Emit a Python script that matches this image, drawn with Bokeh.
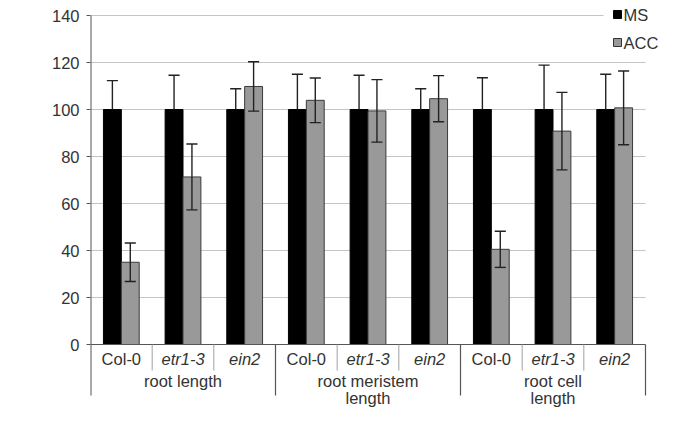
import numpy as np
from bokeh.plotting import figure
from bokeh.models import FixedTicker, Label, Range1d
from bokeh.core.properties import value
from bokeh.embed import file_html
from bokeh.resources import INLINE

# ---- data ----
groups = ["root length", "root meristem\nlength", "root cell\nlength"]
genotypes = ["Col-0", "etr1-3", "ein2"]
ms_mean = [100, 100, 100, 100, 100, 100, 100, 100, 100]
ms_err = [12.3, 14.6, 8.8, 15.0, 14.6, 8.8, 13.5, 18.9, 15.0]
acc_mean = [35.0, 71.3, 109.8, 103.9, 99.4, 104.6, 40.5, 90.8, 100.7]
acc_err = [8.2, 14.0, 10.5, 9.5, 13.3, 9.8, 7.7, 16.5, 15.7]
y_ticks = [0, 20, 40, 60, 80, 100, 120, 140]
series = ["MS", "ACC"]
series_fill = ["black", "#999999"]
series_line = ["black", "#3a3a3a"]

FONT = "Liberation Sans"
TXT = "#333333"
n = len(groups) * len(genotypes)
idx = np.arange(n)

# ---- layout (canvas pixels) ----
W, H = 659, 408
LEFT = 90
PX_PER_X = 555 / 9.0
Y0_PX = 344           # canvas y of value 0
PX_PER_Y = 329 / 140.0


def dy(cy):
    return (Y0_PX - cy) / PX_PER_Y


def dx(cx):
    return (cx - LEFT) / PX_PER_X


p = figure(width=W, height=H, output_backend="svg", toolbar_location=None,
           x_range=Range1d(0, dx(W)), y_range=Range1d(dy(H), dy(0)),
           min_border_left=LEFT, min_border_right=0,
           min_border_top=0, min_border_bottom=0)
p.outline_line_color = None
p.xaxis.visible = False
p.xgrid.visible = False
p.ygrid.visible = False

ax = p.yaxis[0]
ax.ticker = FixedTicker(ticks=y_ticks)
ax.axis_line_color = None
ax.major_tick_line_color = "#555555"
ax.major_tick_out = 4
ax.major_tick_in = 0
ax.minor_tick_line_color = None
ax.major_label_standoff = 7
ax.major_label_text_font = FONT
ax.major_label_text_font_size = "16.5px"
ax.major_label_text_color = TXT

# gridlines (top one stops before the legend)
gx1 = [9.0] * len(y_ticks)
gx1[-1] = dx(603)
p.segment(x0=[0] * len(y_ticks), y0=y_ticks, x1=gx1, y1=y_ticks,
          line_color="#c4c4c4", line_width=1)

# bars
ms_x = idx + 0.355
acc_x = idx + 0.645
bw = 0.29
p.vbar(x=ms_x, top=ms_mean, bottom=0, width=bw,
       fill_color=series_fill[0], line_color=series_line[0], line_width=1)
p.vbar(x=acc_x, top=acc_mean, bottom=0, width=bw,
       fill_color=series_fill[1], line_color=series_line[1], line_width=1)

# error bars (lower half of the MS bars is hidden inside the black bar)
cap = 0.09
ERR = "#222222"
for xs, m, e, lower in ((ms_x, ms_mean, ms_err, False), (acc_x, acc_mean, acc_err, True)):
    m = np.array(m, float)
    e = np.array(e, float)
    lo = m - e if lower else m
    p.segment(x0=xs, y0=lo, x1=xs, y1=m + e, line_color=ERR, line_width=1.4)
    p.segment(x0=xs - cap, y0=m + e, x1=xs + cap, y1=m + e, line_color=ERR, line_width=1.4)
    if lower:
        p.segment(x0=xs - cap, y0=lo, x1=xs + cap, y1=lo, line_color=ERR, line_width=1.4)

# axis lines
major_end = dy(395)
minor_end = dy(370)
p.segment(x0=[0], y0=[major_end], x1=[0], y1=[140], line_color="#555555", line_width=2)
p.segment(x0=[0], y0=[0], x1=[9], y1=[0], line_color="#555555", line_width=1)

# category separators
minor = [i for i in range(1, n) if i % 3 != 0]
p.segment(x0=minor, y0=[0] * len(minor), x1=minor, y1=[minor_end] * len(minor),
          line_color="#a0a0a0", line_width=1)
major = [3, 6, 9]
p.segment(x0=major, y0=[0] * len(major), x1=major, y1=[major_end] * len(major),
          line_color="#555555", line_width=1.2)

# sub labels
sub_labels = genotypes * len(groups)
styles = ["normal" if g == "Col-0" else "italic" for g in sub_labels]
p.text(x=idx + 0.5, y=[dy(358)] * n, text=sub_labels, text_font=value(FONT),
       text_font_size="16.5px", text_font_style=styles, text_color=TXT,
       text_align="center", text_baseline="middle")

# group labels (two lines)
gx = np.arange(len(groups)) * 3 + 1.5
l1 = [g.split("\n")[0] for g in groups]
l2 = [g.split("\n")[1] if "\n" in g else "" for g in groups]
p.text(x=gx, y=[dy(380)] * len(groups), text=l1, text_font=value(FONT), text_font_size="16.5px",
       text_color=TXT, text_align="center", text_baseline="middle")
p.text(x=gx, y=[dy(397)] * len(groups), text=l2, text_font=value(FONT), text_font_size="16.5px",
       text_color=TXT, text_align="center", text_baseline="middle")

# y axis title
p.add_layout(Label(x=dx(32.5), y=dy(182), text="relative root elongation (%)", angle=np.pi / 2,
                   text_font=FONT, text_font_size="18px", text_color=TXT,
                   text_align="center", text_baseline="middle"))

# legend (drawn manually, top right)
leg_y = [dy(14), dy(42)]
p.scatter(x=[dx(617)] * 2, y=leg_y, marker="square", size=8,
          fill_color=series_fill, line_color=["black", "#333333"], line_width=1)
p.text(x=[dx(623)] * 2, y=leg_y, text=series, text_font=value(FONT), text_font_size="16.5px",
       text_color=TXT, text_align="left", text_baseline="middle")

open("out.html", "w").write(file_html(p, INLINE))
